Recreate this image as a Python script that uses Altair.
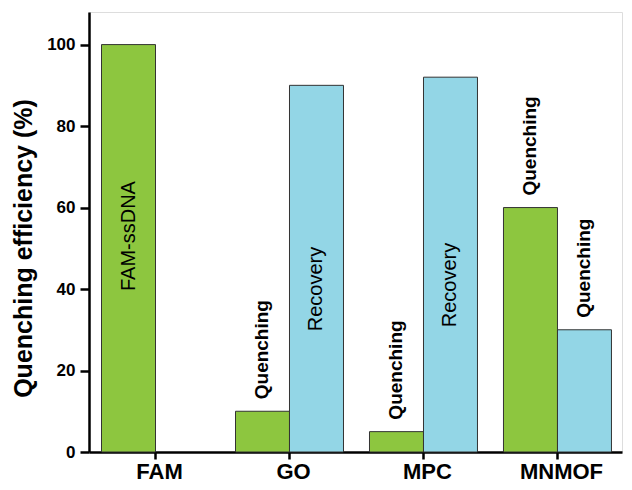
import altair as alt
import pandas as pd

categories = ["FAM", "GO", "MPC", "MNMOF"]
green_values = [100, 10, 5, 60]
blue_values = [0, 90, 92, 30]
series_names = ["green", "blue"]
series_colors = ["#8dc63f", "#93d6e6"]

# labels drawn just above bars
top_label_cat = ["GO", "MPC", "MNMOF", "MNMOF"]
top_label_series = ["green", "green", "green", "blue"]
top_label_text = ["Quenching", "Quenching", "Quenching", "Quenching"]

# labels drawn inside bars
inner_label_cat = ["FAM", "GO", "MPC"]
inner_label_series = ["green", "blue", "blue"]
inner_label_text = ["FAM-ssDNA", "Recovery", "Recovery"]
inner_label_value = [53, 40, 41]

FONT = "Liberation Sans"

rows = []
for c, g, b in zip(categories, green_values, blue_values):
    rows.append({"category": c, "series": "green", "value": g})
    rows.append({"category": c, "series": "blue", "value": b})
bars_df = pd.DataFrame(rows)
lookup = {(r["category"], r["series"]): r["value"] for r in rows}

top_df = pd.DataFrame({
    "category": top_label_cat,
    "series": top_label_series,
    "text": top_label_text,
    "value": [lookup[(c, s)] for c, s in zip(top_label_cat, top_label_series)],
})
inner_df = pd.DataFrame({
    "category": inner_label_cat,
    "series": inner_label_series,
    "text": inner_label_text,
    "value": inner_label_value,
})

x_enc = alt.X(
    "category:N",
    sort=categories,
    scale=alt.Scale(paddingInner=0.194, paddingOuter=0.086, align=0.543),
    axis=alt.Axis(
        title=None,
        labelAngle=0,
        labelFont=FONT,
        labelFontSize=22,
        labelFontWeight="bold",
        labelColor="black",
        labelPadding=2,
        labelOffset=4,
        tickSize=7,
        tickWidth=2.5,
        tickColor="black",
        domainColor="black",
        domainWidth=2.5,
    ),
)
xoff_enc = alt.XOffset(
    "series:N", sort=series_names, scale=alt.Scale(paddingInner=0, paddingOuter=0)
)
y_enc = alt.Y(
    "value:Q",
    scale=alt.Scale(domain=[0, 108], nice=False),
    axis=alt.Axis(
        values=[0, 20, 40, 60, 80, 100],
        title="Quenching efficiency (%)",
        titleFont=FONT,
        titleFontSize=25,
        titleFontWeight="bold",
        titleColor="black",
        titleAngle=-90,
        titleAlign="center",
        titleBaseline="middle",
        titleX=-66,
        titleY=236,
        labelFont=FONT,
        labelFontSize=17,
        labelFontWeight="bold",
        labelColor="black",
        labelPadding=5,
        tickSize=9,
        tickWidth=2.5,
        tickColor="black",
        domainColor="black",
        domainWidth=2.5,
        grid=False,
    ),
)

bars = (
    alt.Chart(bars_df)
    .transform_filter("datum.value > 0")
    .mark_bar(stroke="#333333", strokeWidth=1)
    .encode(
        x=x_enc,
        xOffset=xoff_enc,
        y=y_enc,
        color=alt.Color(
            "series:N",
            scale=alt.Scale(domain=series_names, range=series_colors),
            legend=None,
        ),
    )
)

top_text = (
    alt.Chart(top_df)
    .mark_text(
        angle=270, align="left", baseline="middle", dx=12,
        font=FONT, fontSize=19, fontWeight="bold", color="black",
    )
    .encode(x=alt.X("category:N", sort=categories), xOffset=xoff_enc,
            y="value:Q", text="text:N")
)

inner_text = (
    alt.Chart(inner_df)
    .mark_text(
        angle=270, align="center", baseline="middle",
        font=FONT, fontSize=20, color="black",
    )
    .encode(x=alt.X("category:N", sort=categories), xOffset=xoff_enc,
            y="value:Q", text="text:N")
)

chart = (
    alt.layer(bars, top_text, inner_text)
    .properties(
        width=533,
        height=440,
        autosize="none",
        padding={"left": 81, "top": 4, "right": 2, "bottom": 30},
    )
    .configure_view(stroke="black", strokeWidth=2)
    .configure(background="white")
)

chart.save("out.html", embed_options={"renderer": "svg", "actions": False})
